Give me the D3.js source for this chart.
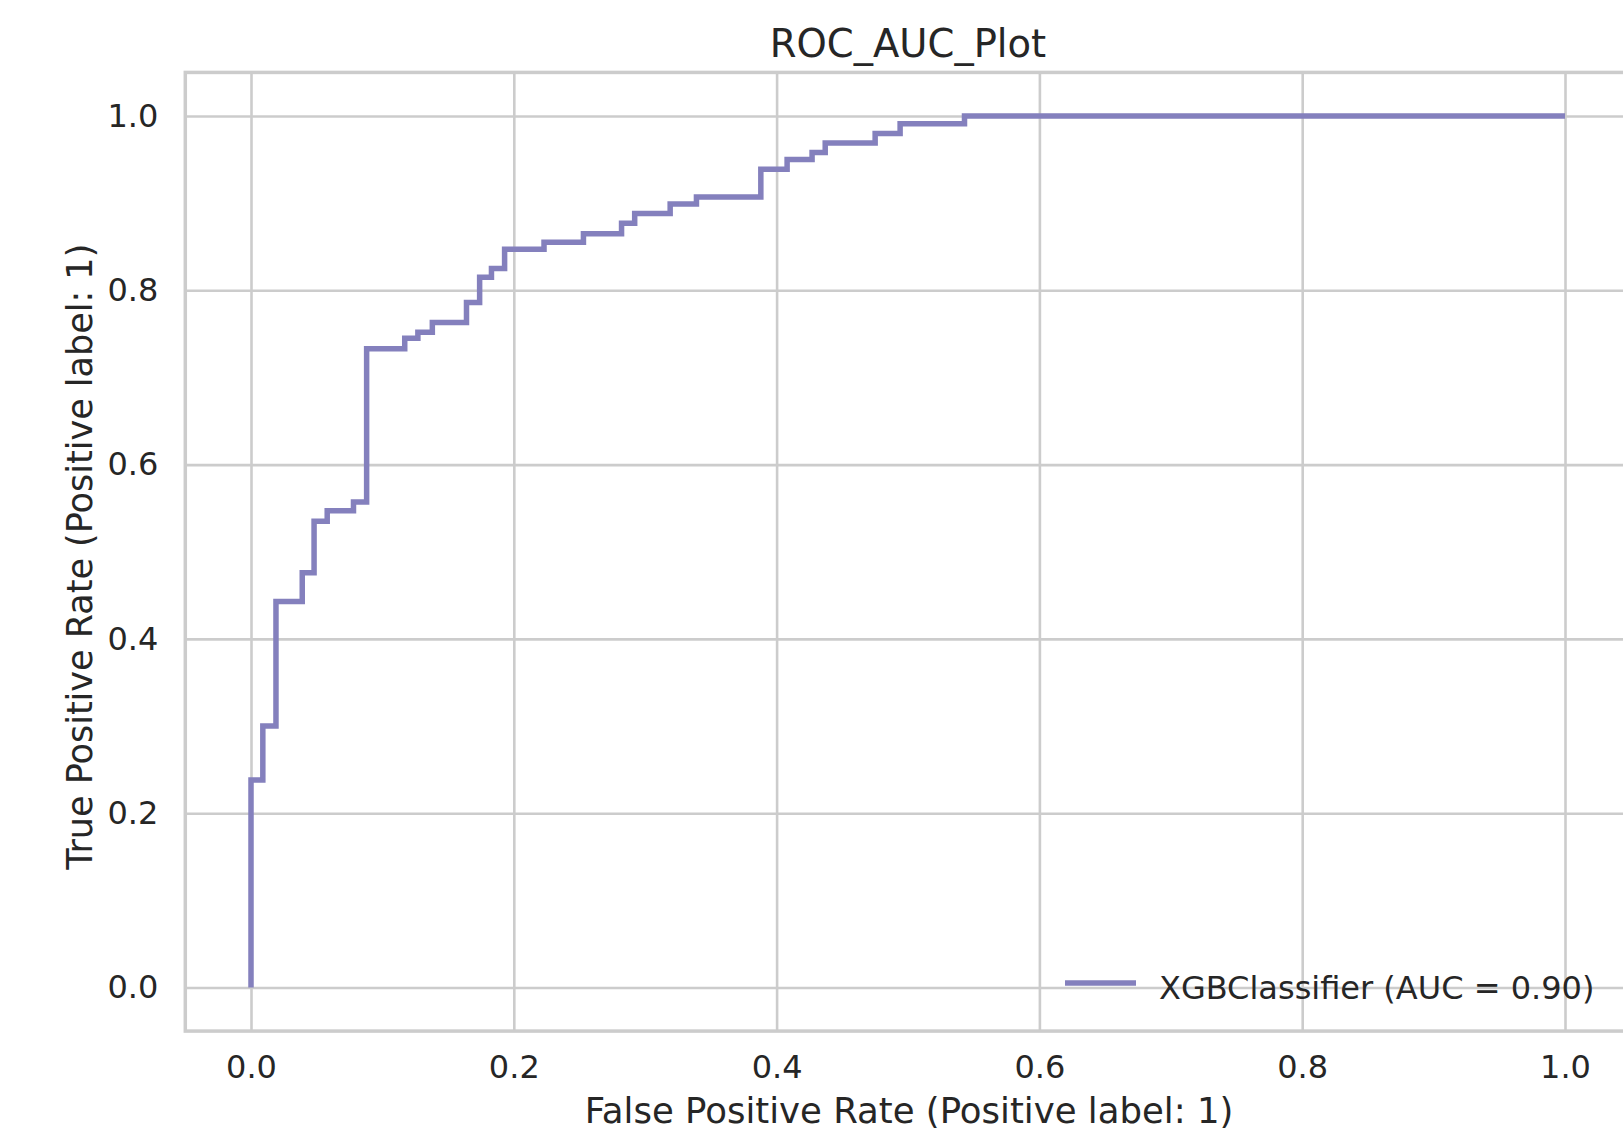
<!DOCTYPE html>
<html lang="en">

<head>
  <meta charset="UTF-8">
  <script src="https://cdn.jsdelivr.net/npm/d3@7"></script>
  <title>ROC_AUC_Plot</title>
  <style>
    body {
      margin: 0;
      background: white;
    }

    text {
      font-family: 'DejaVu Sans', sans-serif;
      fill: #262626;
    }

    .grid .tick line {
      stroke: #cccccc;
      stroke-width: 2.6;
    }

    .grid .domain {
      display: none;
    }

    .grid .tick text {
      font-size: 32px;
      fill: #262626;
    }
  </style>
</head>

<body>
  <script>
    // roc curve vertices
    const fpr = [0, 0, 0.009, 0.009, 0.019, 0.019, 0.039, 0.039, 0.048, 0.048, 0.058, 0.058, 0.078, 0.078,
      0.088, 0.088, 0.117, 0.117, 0.127, 0.127, 0.138, 0.138, 0.164, 0.164, 0.174, 0.174, 0.183, 0.183,
      0.193, 0.193, 0.223, 0.223, 0.253, 0.253, 0.282, 0.282, 0.292, 0.292, 0.319, 0.319, 0.339, 0.339,
      0.388, 0.388, 0.408, 0.408, 0.427, 0.427, 0.437, 0.437, 0.475, 0.475, 0.494, 0.494, 0.543, 0.543, 1.0];
    const tpr = [0, 0.238, 0.238, 0.300, 0.300, 0.443, 0.443, 0.476, 0.476, 0.535, 0.535, 0.547, 0.547, 0.557,
      0.557, 0.733, 0.733, 0.745, 0.745, 0.752, 0.752, 0.763, 0.763, 0.786, 0.786, 0.815, 0.815, 0.825,
      0.825, 0.847, 0.847, 0.855, 0.855, 0.865, 0.865, 0.877, 0.877, 0.888, 0.888, 0.899, 0.899, 0.907,
      0.907, 0.939, 0.939, 0.950, 0.950, 0.958, 0.958, 0.969, 0.969, 0.980, 0.980, 0.991, 0.991, 1.0, 1.0];
    const xTicks = [0, 0.2, 0.4, 0.6, 0.8, 1.0];
    const yTicks = [0, 0.2, 0.4, 0.6, 0.8, 1.0];
    const seriesName = 'XGBClassifier';
    const aucValue = 0.90;
    const title = 'ROC_AUC_Plot';
    const xLabel = 'False Positive Rate (Positive label: 1)';
    const yLabel = 'True Positive Rate (Positive label: 1)';

    const width = 1623, height = 1133;
    const lineColor = '#8480bd';

    // 0 -> 251px, 1 -> 1565px ; y: 0 -> 987.5px, 1 -> 116px
    const scaleX = d3.scaleLinear().domain([0, 1]).range([251, 1565]);
    const scaleY = d3.scaleLinear().domain([0, 1]).range([987.5, 116]);
    const x0 = scaleX(-0.05), x1 = scaleX(1.05);
    const yTop = scaleY(1.05), yBot = scaleY(-0.05);

    const svg = d3.select('body').append('svg').attr('width', width).attr('height', height);

    const axisX = d3.axisBottom(scaleX).tickValues(xTicks).tickFormat(d3.format('.1f'))
      .tickSize(-(yBot - yTop)).tickPadding(24);
    const axisY = d3.axisLeft(scaleY).tickValues(yTicks).tickFormat(d3.format('.1f'))
      .tickSize(-(x1 - x0)).tickPadding(27);

    svg.append('g').attr('class', 'grid x-axis').attr('transform', `translate(0,${yBot})`).call(axisX);
    svg.append('g').attr('class', 'grid y-axis').attr('transform', `translate(${x0},0)`).call(axisY);

    // axes frame
    svg.append('rect')
      .attr('x', x0).attr('y', yTop)
      .attr('width', x1 - x0).attr('height', yBot - yTop)
      .attr('fill', 'none').attr('stroke', '#cccccc').attr('stroke-width', 3.5);

    const line = d3.line().x(d => scaleX(d[0])).y(d => scaleY(d[1]));
    svg.append('path')
      .datum(fpr.map((f, i) => [f, tpr[i]]))
      .attr('d', line)
      .attr('fill', 'none').attr('stroke', lineColor)
      .attr('stroke-width', 5.5).attr('stroke-linejoin', 'miter').attr('stroke-linecap', 'butt');

    // legend (lower right, no frame)
    const legend = svg.append('g').attr('transform', `translate(1065,983)`);
    legend.append('line').attr('x1', 0).attr('x2', 71).attr('y1', 0).attr('y2', 0)
      .attr('stroke', lineColor).attr('stroke-width', 5.5);
    legend.append('text').attr('x', 94).attr('y', 16).style('font-size', '32px')
      .text(`${seriesName} (AUC = ${aucValue.toFixed(2)})`);

    svg.append('text').attr('x', (x0 + x1) / 2).attr('y', 57)
      .attr('text-anchor', 'middle').style('font-size', '38.5px').text(title);

    svg.append('text').attr('x', (x0 + x1) / 2 + 1).attr('y', 1123)
      .attr('text-anchor', 'middle').style('font-size', '35.5px').text(xLabel);

    svg.append('text')
      .attr('transform', `translate(92,${(yTop + yBot) / 2 + 5}) rotate(-90)`)
      .attr('text-anchor', 'middle').style('font-size', '35px').text(yLabel);
  </script>
</body>

</html>
